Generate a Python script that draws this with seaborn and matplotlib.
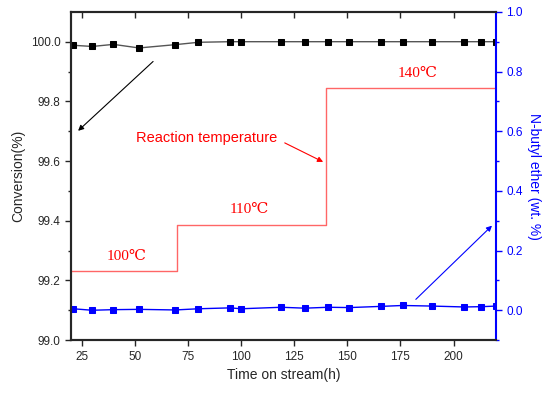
import seaborn as sns
import matplotlib.pyplot as plt
import pandas as pd

# datos
tiempo = [21, 30, 40, 52, 69, 80, 95, 100, 119, 130, 141, 151, 166, 176, 190, 205, 213, 220]
conversion = [99.988, 99.984, 99.991, 99.979, 99.990, 99.998, 100.0, 100.0, 100.0, 100.0,
              100.0, 100.0, 100.0, 100.0, 100.0, 100.0, 100.0, 100.0]
eter = [0.005, 0.0, 0.002, 0.003, 0.001, 0.005, 0.008, 0.005, 0.010, 0.007,
        0.010, 0.009, 0.013, 0.016, 0.014, 0.011, 0.012, 0.014]

# escalon de temperatura (en escala del eje izquierdo)
paso_x = [20, 70, 70, 140, 140, 220]
paso_y = [99.233, 99.233, 99.386, 99.386, 99.845, 99.845]
etiquetas_temp = ["100℃", "110℃", "140℃"]
pos_temp = [(46, 99.26), (104, 99.415), (183, 99.87)]

df = pd.DataFrame({"tiempo": tiempo, "conversion": conversion, "eter": eter})

sns.set_style("ticks")
plt.rcParams["font.family"] = ["Liberation Sans", "DejaVu Sans"]

fig = plt.figure(figsize=(5.5, 3.95), dpi=100)
ax = fig.add_axes([0.129, 0.139, 0.773, 0.831])
ax2 = ax.twinx()

sns.lineplot(data=df, x="tiempo", y="conversion", ax=ax, color="#555555", lw=1,
             marker="s", markersize=5, markerfacecolor="black", markeredgecolor="black")
sns.lineplot(data=df, x="tiempo", y="eter", ax=ax2, color="blue", lw=1,
             marker="s", markersize=5, markerfacecolor="blue", markeredgecolor="blue")

ax.plot(paso_x, paso_y, color="#ff6666", lw=1)
for txt, (px, py) in zip(etiquetas_temp, pos_temp):
    ax.text(px, py, txt, color="red", fontsize=11, ha="center", va="bottom",
            family=["Liberation Serif", "DejaVu Serif"])

ax.text(50.5, 99.678, "Reaction temperature", color="red", fontsize=10.5, va="center")
ax.annotate("", xy=(139.8, 99.593), xytext=(119.4, 99.665),
            arrowprops=dict(arrowstyle="-|>", color="red", lw=0.8, mutation_scale=8))
ax.annotate("", xy=(22.4, 99.695), xytext=(59.6, 99.94),
            arrowprops=dict(arrowstyle="-|>", color="black", lw=0.8, mutation_scale=8))
ax2.annotate("", xy=(219, 0.29), xytext=(181.3, 0.03),
             arrowprops=dict(arrowstyle="-|>", color="blue", lw=0.8, mutation_scale=8))

ax.set_xlim(20, 220)
ax.set_ylim(99.0, 100.1)
ax2.set_ylim(-0.1, 1.0)
ax.set_xticks([25, 50, 75, 100, 125, 150, 175, 200])
ax.set_yticks([99.0, 99.2, 99.4, 99.6, 99.8, 100.0])
ax.set_yticks([99.1, 99.3, 99.5, 99.7, 99.9], minor=True)
ax2.set_yticks([0.0, 0.2, 0.4, 0.6, 0.8, 1.0])
ax2.set_yticks([-0.1, 0.1, 0.3, 0.5, 0.7, 0.9], minor=True)
ax.yaxis.set_major_formatter(plt.FormatStrFormatter("%.1f"))
ax2.yaxis.set_major_formatter(plt.FormatStrFormatter("%.1f"))

ax.set_xlabel("Time on stream(h)", fontsize=10)
ax.set_ylabel("Conversion(%)", fontsize=10)
ax2.set_ylabel("N-butyl ether (wt. %)", fontsize=10, color="blue", rotation=270, labelpad=13)

ax.tick_params(axis="both", which="both", labelsize=8.5, direction="out", length=4, width=1)
ax.tick_params(axis="y", which="minor", length=2.5)
ax.tick_params(axis="x", top=True, labeltop=False)
ax2.tick_params(axis="y", which="both", labelsize=8.5, colors="blue", direction="out", length=4, width=1)
ax2.tick_params(axis="y", which="minor", length=2.5)

for s in ["left", "bottom", "top"]:
    ax.spines[s].set_linewidth(1.5)
    ax2.spines[s].set_linewidth(1.5)
ax2.spines["right"].set_color("blue")
ax2.spines["right"].set_linewidth(1.5)
ax.spines["right"].set_visible(False)

# ticks superiores hacia dentro
for t in ax.xaxis.get_major_ticks():
    t.tick2line.set_marker(3)

fig.savefig("out.png", dpi=100)
